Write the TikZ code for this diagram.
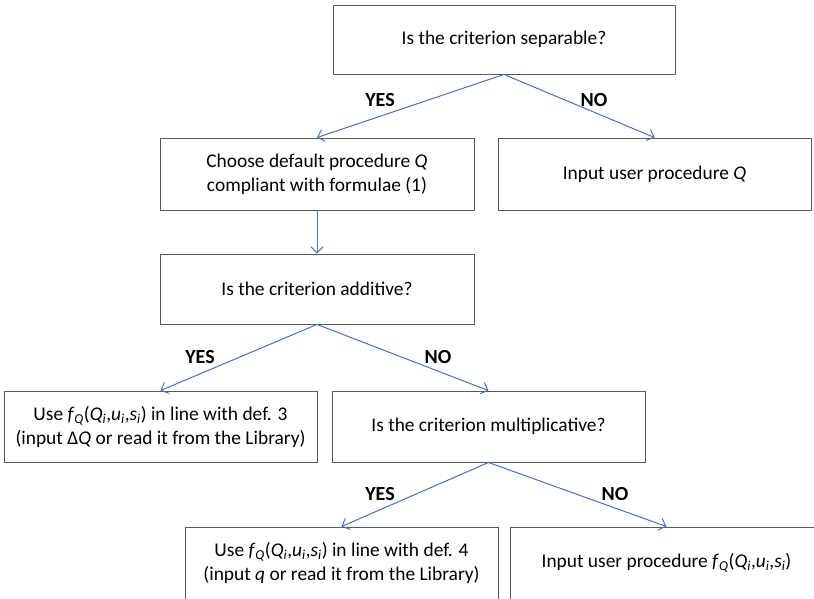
\documentclass[tikz,border=0pt]{standalone}
\usepackage{fontspec}
\setmainfont{Carlito}
\usetikzlibrary{arrows.meta}
\definecolor{flowblue}{RGB}{68,114,196}
\definecolor{boxgray}{RGB}{90,90,90}
\newcommand{\fq}{\textit{f}\textsubscript{\textit{Q}}(\textit{Q}\textsubscript{\textit{i}},\textit{u}\textsubscript{\textit{i}},\textit{s}\textsubscript{\textit{i}})}
\tikzset{
  stepbox/.style={draw=boxgray, line width=0.9pt, rectangle, inner sep=0pt,
    minimum height=71pt, align=center, font=\fontsize{19.4}{24}\selectfont},
  flow/.style={draw=flowblue, line width=1pt, -{Straight Barb[length=6pt,width=12pt]}},
  answer/.style={font=\fontsize{20}{22}\selectfont\bfseries}
}
\begin{document}
\begin{tikzpicture}[x=1pt, y=-1pt]
  \useasboundingbox (0,0) rectangle (814,598);
  \clip (0,0) rectangle (814,598);
  \node[stepbox, minimum width=342pt, minimum height=69pt] (sep) at (504,39.5) {Is the criterion separable?};
  \node[stepbox, minimum width=314pt, minimum height=72pt] (dflt) at (317,174) {Choose default procedure \textit{Q}\\compliant with formulae (1)};
  \node[stepbox, minimum width=313pt, minimum height=72pt] (userQ) at (654.5,174) {Input user procedure \textit{Q}};
  \node[stepbox, minimum width=314pt, minimum height=70pt] (add) at (317,289) {Is the criterion additive?};
  \node[stepbox, minimum width=313pt] (def3) at (160.5,426.5) {Use \fq{} in line with def. 3\\(input Δ\textit{Q} or read it from the Library)};
  \node[stepbox, minimum width=313pt] (mult) at (488.5,426.5) {Is the criterion multiplicative?};
  \node[stepbox, minimum width=313pt, minimum height=72pt] (def4) at (341.5,563) {Use \fq{} in line with def. 4\\(input \textit{q} or read it from the Library)};
  \node[stepbox, minimum width=313pt, minimum height=72pt] (userF) at (666.5,563) {Input user procedure \fq};

  \draw[flow] (sep.south) -- (dflt.north);
  \draw[flow] (sep.south) -- (userQ.north);
  \draw[flow] (dflt.south) -- (add.north);
  \draw[flow] (add.south) -- (def3.north);
  \draw[flow] (add.south) -- (mult.north);
  \draw[flow] (mult.south) -- (def4.north);
  \draw[flow] (mult.south) -- (userF.north);

  \node[answer] (y1) at (380,100) {YES};
  \node[answer] (n1) at (594,100) {NO};
  \node[answer] (y2) at (200,357) {YES};
  \node[answer] (n2) at (438,357) {NO};
  \node[answer] (y3) at (380,494) {YES};
  \node[answer] (n3) at (615,494) {NO};
\end{tikzpicture}
\end{document}
